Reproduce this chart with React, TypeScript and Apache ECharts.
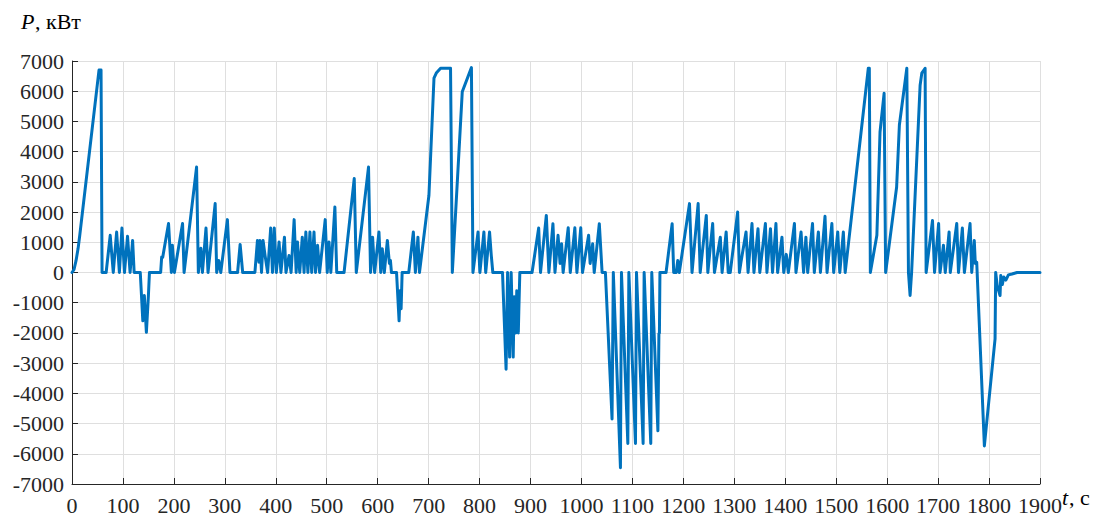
import React, { useEffect, useRef } from "react";
import * as echarts from "echarts";

// time, s
const timeS: number[] = [
  0, 4, 8, 12, 15, 53, 57, 59, 67, 75, 81, 87.6, 93, 98, 103, 109, 114, 119, 122,
  134, 139, 142, 146, 150, 152, 174, 176, 178, 189.5, 195, 197, 201, 217, 220,
  244.5, 248, 253, 256, 263, 267, 281, 284, 288, 292, 305, 310, 325, 330, 335,
  359, 364, 367, 369, 372, 375, 379, 384, 390, 393.5, 397, 401, 406.5, 410, 417,
  420, 426, 430, 436, 440, 442.5, 447, 452, 455.5, 459, 463, 467, 470.5, 475, 478,
  482, 486, 497, 501, 504.5, 508, 516, 519.6, 534, 554, 558, 582, 586, 590, 594,
  602.5, 606, 609, 613, 619, 623, 625, 627, 637, 642, 644, 646, 648, 661, 670,
  674, 679, 682, 700.6, 710.5, 715, 723.5, 743, 746.5, 766, 784, 787, 797, 800.6,
  808.5, 812, 819.6, 823, 826, 845, 852, 855, 859, 862, 866, 868, 871, 873, 876,
  877, 879, 903, 916, 919.6, 931, 936, 944, 948, 954, 958, 961, 964, 974, 978,
  987, 991, 998.6, 1002, 1014, 1017, 1022, 1025, 1035, 1040.5, 1047, 1060,
  1062.5, 1076.5, 1078.5, 1091, 1093, 1106, 1108, 1121, 1123, 1136, 1138, 1150,
  1152, 1153, 1154, 1166, 1178, 1181, 1186, 1189, 1192, 1212, 1217, 1229, 1233,
  1245, 1248, 1257.5, 1261, 1272.5, 1276, 1284, 1288, 1292, 1306.5, 1310, 1313,
  1323, 1327, 1334.7, 1338.5, 1346.5, 1350, 1361, 1364, 1371, 1375, 1381.7, 1385,
  1393.5, 1397, 1402, 1406, 1418, 1421, 1431, 1436, 1440.5, 1444, 1453.5, 1457,
  1465, 1469, 1478, 1482, 1491.5, 1495, 1503, 1507, 1514, 1517.6, 1563, 1565,
  1567, 1579.8, 1586, 1594, 1597, 1618.6, 1624, 1638.6, 1641.8, 1645, 1648,
  1664.7, 1668, 1674.5, 1676.5, 1689, 1693, 1701, 1703.8, 1710.5, 1714, 1721.6,
  1723.9, 1736.6, 1740, 1747.6, 1751.6, 1762.7, 1766, 1771, 1773, 1775.8, 1790.8,
  1811.8, 1813, 1816, 1821.6, 1823, 1826, 1829, 1833, 1838, 1845, 1855, 1900,
];

// power, kW
const powerKW: number[] = [
  0, 100, 400, 800, 1200, 6700, 6700, 0, 0, 1230, 0, 1340, 0, 1470, 0, 1200, 0, 1060, 0,
  0, -1600, -760, -1980, -760, 0, 0, 510, 500, 1620, 0, 900, 0, 1620, 0,
  3490, 0, 800, 0, 1470, 0, 2280, 0, 400, 0, 1750, 0, 0, 930, 0,
  0, 1060, 340, 1060, 0, 1060, 560, 0, 1470, 0, 1470, 0, 1010, 0, 1170,
  0, 560, 0, 1750, 0, 1010, 0, 1170, 0, 1340, 0, 1340, 0, 1340, 0,
  900, 0, 1750, 0, 1010, 0, 2170, 0, 0, 3110, 0, 3490, 0, 1170, 0,
  1340, 0, 790, 0, 1060, 300, 400, 0, 0, -1600, -600, -1200, 0, 0, 1340,
  0, 1170, 0, 2555, 6430, 6600, 6760, 6760, 0, 5980, 6780, 0, 1340, 0,
  1340, 0, 1340, 560, 0, 0, -3200, 0, -2800, 0, -2800, -800, -2000, -600, -2000,
  -1300, 0, 0, 1470, 0, 1890, 0, 1615, 0, 1230, 300, 950, 0, 1480, 0,
  1480, 0, 1480, 0, 1230, 300, 950, 0, 1615, 0, 0, -4850,
  0, -6460, 0, -5660, 0, -5660, 0, -5660, 0, -5660, 0, -5240,
  -2030, -2000, 0, 0, 1615, 0, 0, 400, 0, 2280, 0, 2280, 0,
  1890, 0, 1620, 0, 1170, 0, 1340, 0, 0, 2000, 0, 340,
  1340, 0, 1620, 0, 1450, 0, 1620, 0, 1450, 0, 1620, 0,
  1170, 0, 600, 0, 1620, 0, 1340, 0, 1170, 0, 1620, 0,
  1340, 0, 1860, 0, 1620, 0, 1340, 0, 1340, 0, 6760, 6760,
  0, 1230, 4650, 5930, 0, 2830, 4880, 6760, 0, -760, 0,
  6200, 6600, 6760, 0, 1720, 0, 1620, 0, 900, 0, 1340,
  0, 1620, 0, 1470, 0, 1620, 0, 1060, 300, 340, -5740,
  -2200, 0, -430, -760, -100, -400, -150, -250, -80, -50, 0, 0,
];

const xTicks = { min: 0, max: 1900, step: 100 };
const yTicks = { min: -7000, max: 7000, step: 1000 };

const SERIF = "Liberation Serif";

export default function App() {
  const ref = useRef<HTMLDivElement>(null);
  useEffect(() => {
    if (!ref.current) return;
    const chart = echarts.init(ref.current, undefined, { renderer: "svg" });
    const data = timeS.map((t, i) => [t, powerKW[i]]);
    const plain = (v: number) => String(v);
    const labelStyle = {
      fontFamily: SERIF,
      fontSize: 22,
      color: "#262626",
      formatter: plain,
    };
    chart.setOption({
      animation: false,
      backgroundColor: "#ffffff",
      textStyle: { fontFamily: SERIF },
      grid: { left: 72, right: 62, top: 61, bottom: 33, containLabel: false },
      xAxis: {
        type: "value",
        min: xTicks.min,
        max: xTicks.max,
        interval: xTicks.step,
        axisLine: { show: true, onZero: false, lineStyle: { color: "#262626", width: 1 } },
        axisTick: { show: true, inside: true, length: 6, lineStyle: { color: "#262626" } },
        axisLabel: { ...labelStyle, margin: 10 },
        splitLine: { show: true, lineStyle: { color: "#dfdfdf", width: 1 } },
      },
      yAxis: {
        type: "value",
        min: yTicks.min,
        max: yTicks.max,
        interval: yTicks.step,
        axisLine: { show: true, onZero: false, lineStyle: { color: "#262626", width: 1 } },
        axisTick: { show: true, inside: true, length: 6, lineStyle: { color: "#262626" } },
        axisLabel: { ...labelStyle, margin: 8 },
        splitLine: { show: true, lineStyle: { color: "#dfdfdf", width: 1 } },
      },
      graphic: [
        {
          type: "text",
          left: 21,
          top: 10,
          style: { text: "P", fontFamily: SERIF, fontStyle: "italic", fontSize: 22, fill: "#000000" },
        },
        {
          type: "text",
          left: 35,
          top: 10,
          style: { text: ", кВт", fontFamily: SERIF, fontSize: 22, fill: "#000000" },
        },
        {
          type: "text",
          left: 1062,
          top: 486,
          style: { text: "t", fontFamily: SERIF, fontStyle: "italic", fontSize: 22, fill: "#000000" },
        },
        {
          type: "text",
          left: 1069,
          top: 486,
          style: { text: ", с", fontFamily: SERIF, fontSize: 22, fill: "#000000" },
        },
      ],
      series: [
        {
          type: "line",
          data,
          showSymbol: false,
          symbol: "none",
          lineStyle: { color: "#0072BD", width: 3, join: "round", cap: "round" },
          itemStyle: { color: "#0072BD" },
        },
      ],
    });
    return () => chart.dispose();
  }, []);
  return <div ref={ref} style={{ width: 1102, height: 517, position: "absolute", left: 0, top: 0 }} />;
}
